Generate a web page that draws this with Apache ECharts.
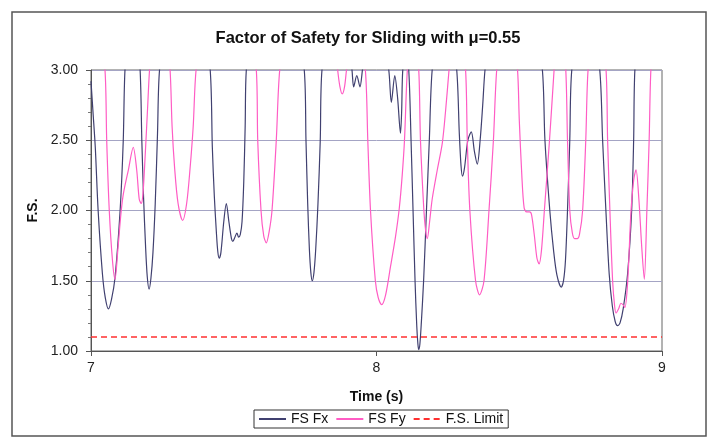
<!DOCTYPE html>
<html>
<head>
<meta charset="utf-8">
<script src="https://cdn.jsdelivr.net/npm/echarts@6/dist/echarts.min.js"></script>
<style>
  html, body { margin: 0; padding: 0; background: #fff; }
  #main { width: 709px; height: 439px; }
</style>
</head>
<body>
<div id="main"></div>
<script>
// time (s) / factor of safety; values > 3 run off the top
var fxTime = [
  7.000, 7.007, 7.015, 7.025, 7.040, 7.050, 7.061, 7.072, 7.084, 7.102, 7.113, 7.119, 7.145,
  7.172, 7.178, 7.184, 7.191, 7.197, 7.2035, 7.210, 7.217, 7.225, 7.233, 7.240, 7.330,
  7.4175, 7.425, 7.432, 7.439, 7.444, 7.449, 7.455, 7.465, 7.474, 7.483, 7.492, 7.497, 7.504, 7.511, 7.517, 7.523, 7.529, 7.535, 7.540, 7.544, 7.645,
  7.747, 7.753, 7.759, 7.765, 7.770, 7.775, 7.781, 7.787, 7.795, 7.803, 7.809, 7.860,
  7.913, 7.920, 7.931, 7.942, 7.952, 8.000,
  8.043, 8.052, 8.064, 8.074, 8.084, 8.088, 8.092, 8.1025,
  8.113, 8.121, 8.128, 8.135, 8.141, 8.145, 8.148, 8.152, 8.157, 8.165, 8.175, 8.185, 8.195, 8.238,
  8.281, 8.290, 8.296, 8.301, 8.308, 8.320, 8.332, 8.343, 8.353, 8.363, 8.372, 8.380, 8.480,
  8.581, 8.590, 8.607, 8.620, 8.632, 8.647, 8.655, 8.662, 8.669, 8.677, 8.684, 8.733,
  8.782, 8.792, 8.8035, 8.815, 8.826, 8.836, 8.8445, 8.853, 8.864, 8.8795, 8.8937, 8.9007, 8.905, 8.950, 9.000
];
var fxValue = [
  2.92, 2.70, 2.45, 2.00, 1.55, 1.38, 1.30, 1.37, 1.52, 2.00, 2.50, 3.00, 3.80,
  3.00, 2.50, 2.10, 1.75, 1.53, 1.44, 1.52, 1.70, 2.05, 2.55, 3.00, 5.00,
  3.00, 2.45, 2.10, 1.85, 1.71, 1.66, 1.70, 1.92, 2.05, 1.92, 1.80, 1.78, 1.81, 1.84, 1.81, 1.83, 1.92, 2.20, 2.60, 3.00, 5.00,
  3.00, 2.50, 2.05, 1.72, 1.56, 1.50, 1.56, 1.72, 2.05, 2.50, 3.00, 3.60,
  3.02, 2.88, 2.96, 2.88, 3.02, 3.60,
  3.00, 2.77, 2.96, 2.80, 2.55, 2.70, 3.00, 3.15,
  3.00, 2.50, 2.00, 1.50, 1.18, 1.05, 1.01, 1.05, 1.20, 1.50, 2.00, 2.50, 3.00, 3.80,
  3.00, 2.55, 2.32, 2.245, 2.30, 2.50, 2.56, 2.42, 2.33, 2.50, 2.75, 3.00, 5.00,
  3.00, 2.50, 2.00, 1.72, 1.54, 1.455, 1.50, 1.65, 2.00, 2.50, 3.00, 3.80,
  3.00, 2.50, 2.00, 1.55, 1.32, 1.21, 1.18, 1.20, 1.30, 1.55, 2.00, 2.50, 3.00, 4.50, 5.00
];

var fyTime = [
  7.000, 7.049, 7.055, 7.064, 7.075, 7.084, 7.094, 7.105, 7.1135, 7.131, 7.148, 7.160, 7.169, 7.176, 7.182, 7.190, 7.198, 7.205, 7.240,
  7.277, 7.284, 7.293, 7.305, 7.321, 7.335, 7.347, 7.358, 7.368, 7.470,
  7.579, 7.584, 7.5955, 7.605, 7.614, 7.624, 7.634, 7.649, 7.661, 7.760,
  7.864, 7.872, 7.880, 7.888, 7.895, 7.930,
  7.961, 7.9695, 7.979, 7.996, 8.006, 8.018, 8.032, 8.049, 8.067, 8.080, 8.090, 8.098, 8.108, 8.128,
  8.148, 8.154, 8.166, 8.172, 8.178, 8.186, 8.195, 8.213, 8.2305, 8.242, 8.254, 8.283,
  8.312, 8.318, 8.327, 8.347, 8.361, 8.3765, 8.394, 8.4095, 8.421, 8.458,
  8.494, 8.500, 8.509, 8.517, 8.526, 8.536, 8.543, 8.553, 8.562, 8.5695, 8.578, 8.588, 8.606, 8.622, 8.642,
  8.663, 8.669, 8.677, 8.686, 8.694, 8.703, 8.711, 8.722, 8.733, 8.741, 8.772,
  8.804, 8.8095, 8.8175, 8.827, 8.834, 8.839, 8.848, 8.856, 8.863, 8.870, 8.880, 8.891, 8.901, 8.909, 8.919, 8.929, 8.938, 8.947, 8.955, 8.961, 9.000
];
var fyValue = [
  4.20, 3.00, 2.50, 2.00, 1.65, 1.51, 1.72, 1.98, 2.12, 2.29, 2.45, 2.29, 2.08, 2.05, 2.12, 2.40, 2.72, 3.00, 4.00,
  3.00, 2.60, 2.30, 2.05, 1.93, 2.05, 2.30, 2.60, 3.00, 5.00,
  3.00, 2.50, 2.00, 1.82, 1.77, 1.85, 2.00, 2.50, 3.00, 5.00,
  3.00, 2.88, 2.83, 2.88, 3.00, 3.50,
  3.00, 2.50, 2.00, 1.50, 1.38, 1.33, 1.40, 1.60, 1.82, 2.02, 2.25, 2.50, 3.00, 3.50,
  3.00, 2.50, 2.00, 1.86, 1.80, 1.92, 2.08, 2.29, 2.48, 2.71, 3.00, 3.70,
  3.00, 2.50, 2.00, 1.50, 1.40, 1.50, 2.00, 2.50, 3.00, 3.80,
  3.00, 2.65, 2.25, 2.02, 1.99, 1.99, 1.97, 1.82, 1.66, 1.62, 1.72, 2.00, 2.50, 3.00, 3.60,
  3.00, 2.50, 2.00, 1.84, 1.80, 1.80, 1.83, 2.00, 2.50, 3.00, 3.70,
  3.00, 2.50, 2.00, 1.50, 1.32, 1.27, 1.30, 1.34, 1.33, 1.31, 1.50, 1.98, 2.22, 2.29, 2.08, 1.74, 1.51, 2.00, 2.50, 3.00, 4.50
];

var limitTime = [7, 9];
var limitValue = [1.1, 1.1];

function pairs(xs, ys) {
  var out = [];
  for (var i = 0; i < xs.length; i++) out.push([xs[i], ys[i]]);
  return out;
}

var chart = echarts.init(document.getElementById('main'));
var font = '"Liberation Sans", Arial, sans-serif';

var option = {
  backgroundColor: '#fff',
  animation: false,
  textStyle: { fontFamily: font },
  title: {
    text: 'Factor of Safety for Sliding with \u03bc=0.55',
    left: 363,
    textAlign: 'center',
    top: 25,
    textStyle: { fontFamily: font, fontSize: 16.5, fontWeight: 'bold', color: '#111' }
  },
  legend: {
    left: 254,
    top: 410,
    itemWidth: 27,
    itemHeight: 2,
    itemGap: 7,
    padding: [2, 5, 2, 4],
    borderColor: '#333',
    borderWidth: 1,
    textStyle: { fontFamily: font, fontSize: 14, color: '#111' },
    data: ['FS Fx', 'FS Fy', 'F.S. Limit']
  },
  grid: {
    left: 91, top: 70, width: 571, height: 281,
    show: true, borderColor: '#666', borderWidth: 1
  },
  xAxis: {
    type: 'value',
    min: 7, max: 9, interval: 1,
    name: 'Time (s)',
    nameLocation: 'middle',
    nameGap: 39,
    nameTextStyle: { fontFamily: font, fontSize: 14, fontWeight: 'bold', color: '#111' },
    axisLine: { lineStyle: { color: '#555' } },
    axisTick: { show: true, length: 5, lineStyle: { color: '#555' } },
    axisLabel: { fontFamily: font, fontSize: 14, color: '#222', margin: 10 },
    splitLine: { show: false }
  },
  yAxis: {
    type: 'value',
    min: 1, max: 3, interval: 0.5,
    name: 'F.S.',
    nameLocation: 'middle',
    nameGap: 51,
    nameRotate: 90,
    nameTextStyle: { fontFamily: font, fontSize: 14, fontWeight: 'bold', color: '#111' },
    axisLine: { show: true, lineStyle: { color: '#555' } },
    axisTick: { show: true, length: 5, lineStyle: { color: '#555' } },
    minorTick: { show: true, splitNumber: 5, length: 3, lineStyle: { color: '#777' } },
    axisLabel: {
      fontFamily: font, fontSize: 14, color: '#222', margin: 13,
      formatter: function (v) { return v.toFixed(2); }
    },
    splitLine: { show: true, lineStyle: { color: '#a4a4c4', width: 1 } }
  },
  series: [
    {
      name: 'FS Fx', type: 'line', data: pairs(fxTime, fxValue),
      symbol: 'none', smooth: 0.3, clip: true,
      lineStyle: { color: '#404070', width: 1.2 }, itemStyle: { color: '#404070' }
    },
    {
      name: 'FS Fy', type: 'line', data: pairs(fyTime, fyValue),
      symbol: 'none', smooth: 0.3, clip: true,
      lineStyle: { color: '#ff5cc4', width: 1.2 }, itemStyle: { color: '#ff5cc4' }
    },
    {
      name: 'F.S. Limit', type: 'line', data: pairs(limitTime, limitValue),
      symbol: 'none', clip: true,
      lineStyle: { color: '#ff3030', width: 1.6, type: [6, 4] }, itemStyle: { color: '#ff3030' }
    }
  ],
  graphic: [
    { type: 'rect', shape: { x: 12, y: 12, width: 694, height: 424 }, style: { fill: null, stroke: '#555', lineWidth: 1.5 }, silent: true }
  ]
};

chart.setOption(option);
</script>
</body>
</html>
